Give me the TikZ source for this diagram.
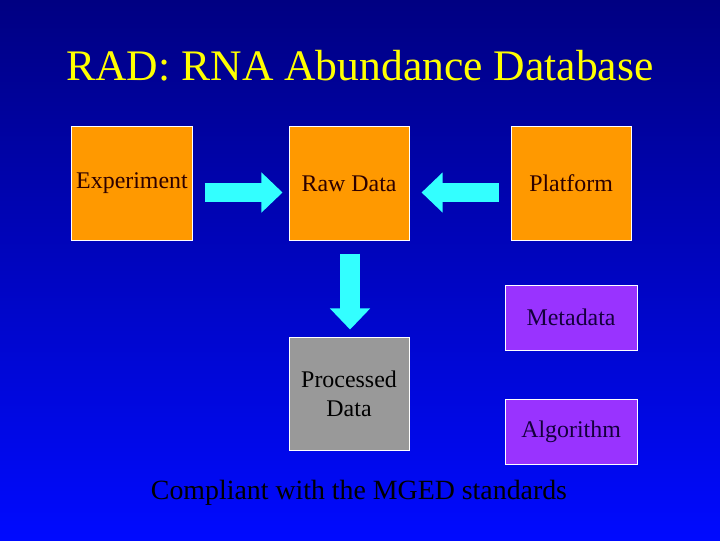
\documentclass[tikz,border=0pt]{standalone}
\usepackage{fontspec}
\setmainfont{LiberationSerif}[Extension=.ttf, UprightFont=*-Regular, BoldFont=*-Bold]
\usetikzlibrary{positioning,arrows.meta}
\definecolor{bgtop}{RGB}{0,0,130}
\definecolor{bgbottom}{RGB}{0,10,255}
\definecolor{boxorange}{RGB}{255,153,0}
\definecolor{boxpurple}{RGB}{153,51,255}
\definecolor{boxgray}{RGB}{153,153,153}
\definecolor{arrowcyan}{RGB}{51,255,255}
\definecolor{titleyellow}{RGB}{255,255,0}
\definecolor{darktext}{RGB}{45,0,0}
\definecolor{navytext}{RGB}{20,0,60}

\begin{document}
\begin{tikzpicture}[x=0.025cm, y=-0.025cm,
  box/.style={draw=white, line width=0.7pt, minimum width=3cm, minimum height=2.825cm, inner sep=1pt, align=center, font=\fontsize{17}{20.5}\selectfont},
  databox/.style={box, fill=boxorange, text=darktext},
  metabox/.style={box, fill=boxpurple, text=navytext, minimum width=3.3cm, minimum height=1.625cm},
  bigarrow/.style={draw=arrowcyan, line width=13.8pt, -{Triangle[width=27.7pt,length=15pt]}},
  heading/.style={font=\fontsize{31}{34}\selectfont, text=titleyellow},
]

% === Background ===
\shade[top color=bgtop, bottom color=bgbottom] (0,0) rectangle (720,540);
\useasboundingbox (0,0) rectangle (720,540);

\node[heading] (title) at (360,66) {RAD: RNA Abundance Database};

% === Top row ===
\node[databox] (exp) at (132,183.5) {Experiment};
\node[databox, right=2.4cm of exp] (raw) {Raw Data};
\node[databox, right=2.525cm of raw] (plat) {Platform};

\draw[bigarrow, shorten <=0.3cm, shorten >=0.15cm] ([yshift=-0.225cm]exp.east) -- ([yshift=-0.225cm]raw.west);
\draw[bigarrow, shorten <=0.3cm, shorten >=0.3cm] ([yshift=-0.225cm]plat.west) -- ([yshift=-0.225cm]raw.east);

% === Processed data ===
\node[box, fill=boxgray, text=black, below=2.4cm of raw] (proc) {Processed\\Data};
\draw[bigarrow, shorten <=0.325cm, shorten >=0.175cm] ([xshift=0.025cm]raw.south) -- ([xshift=0.025cm]proc.north);

% === Right column ===
\node[metabox, below=1.1cm of plat] (meta) {Metadata};
\node[metabox, below=1.2cm of meta] (algo) {Algorithm};

\node[anchor=base, font=\fontsize{19.8}{22}\selectfont, text=black] (mged) at (359,499) {Compliant with the MGED standards};

\end{tikzpicture}
\end{document}
